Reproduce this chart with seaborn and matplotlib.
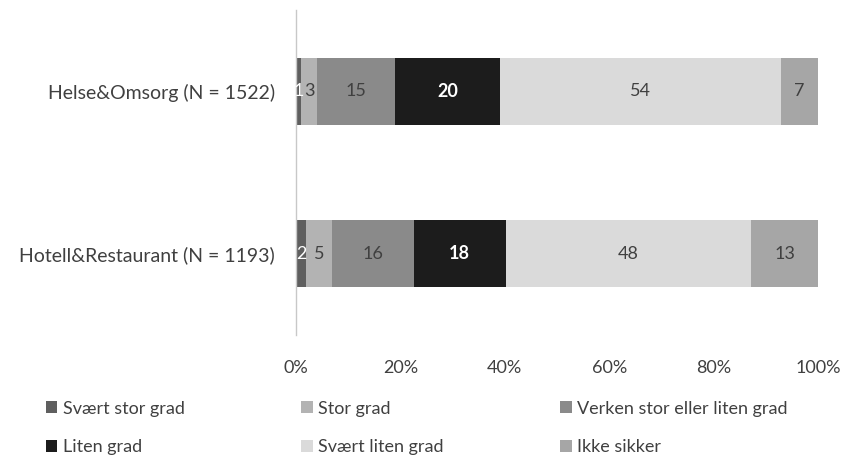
import numpy as np
import pandas as pd
import matplotlib
matplotlib.use("Agg")
import matplotlib.pyplot as plt
import seaborn as sns
from matplotlib.patches import Patch

# data
groups = ["Helse&Omsorg (N = 1522)", "Hotell&Restaurant (N = 1193)"]
categories = ["Svært stor grad", "Stor grad", "Verken stor eller liten grad",
              "Liten grad", "Svært liten grad", "Ikke sikker"]
helse = [1, 3, 15, 20, 54, 7]
hotell = [2, 5, 16, 18, 48, 13]
x_ticks = [0, 20, 40, 60, 80, 100]

colors = ["#5f5f5f", "#b3b3b3", "#8a8a8a", "#1c1c1c", "#dadada", "#a6a6a6"]
label_colors = ["white", "#404040", "#404040", "white", "#404040", "#404040"]

sns.set_theme(style="white")
plt.rcParams["font.family"] = ["Lato", "DejaVu Sans"]

raw = pd.DataFrame([helse, hotell], index=groups, columns=categories)
pct = raw.div(raw.sum(axis=1), axis=0) * 100
cum = pct.cumsum(axis=1)

fig = plt.figure(figsize=(8.45, 4.57), dpi=100)
ax = fig.add_axes([296 / 845, 1 - 335 / 457, 522 / 845, 325 / 457])

# stacked bars: draw cumulative totals from the outermost segment inward
for i in range(len(categories) - 1, -1, -1):
    df = pd.DataFrame({"group": groups, "value": cum.iloc[:, i].values})
    sns.barplot(data=df, x="value", y="group", orient="h", color=colors[i],
                saturation=1, width=0.41, linewidth=0, ax=ax)

# segment labels
for r, g in enumerate(groups):
    for i, cat in enumerate(categories):
        start = cum.iloc[r, i] - pct.iloc[r, i]
        mid = start + pct.iloc[r, i] / 2
        bold = cat == "Liten grad"
        ax.text(mid, r, str(raw.iloc[r, i]), ha="center", va="center",
                fontsize=13, color=label_colors[i],
                fontweight="bold" if bold else "normal")

ax.set_xlim(0, 100)
ax.set_ylim(1.5, -0.5)
ax.set_xticks(x_ticks)
ax.set_xticklabels([f"{t}%" for t in x_ticks])
ax.set_xlabel("")
ax.set_ylabel("")
ax.tick_params(axis="x", length=0, labelsize=13, labelcolor="#404040", pad=18)
ax.tick_params(axis="y", length=0, labelsize=14, labelcolor="#404040", pad=15)
for s in ["top", "right", "bottom"]:
    ax.spines[s].set_visible(False)
ax.spines["left"].set_color("#c8c8c8")
ax.spines["left"].set_linewidth(1)

# legend, filled row by row as in the original
handles = [Patch(facecolor=c, edgecolor="none") for c in colors]
order = [0, 3, 1, 4, 2, 5]
fig.legend([handles[k] for k in order], [categories[k] for k in order],
           ncol=3, loc="upper left", bbox_to_anchor=(42 / 845, 1 - 397 / 457),
           frameon=False, fontsize=13, handlelength=0.65, handleheight=0.65,
           handletextpad=0.3, columnspacing=6.45, labelspacing=1.25,
           labelcolor="#404040", borderaxespad=0, borderpad=0.2)

fig.savefig("out.png", dpi=100)
